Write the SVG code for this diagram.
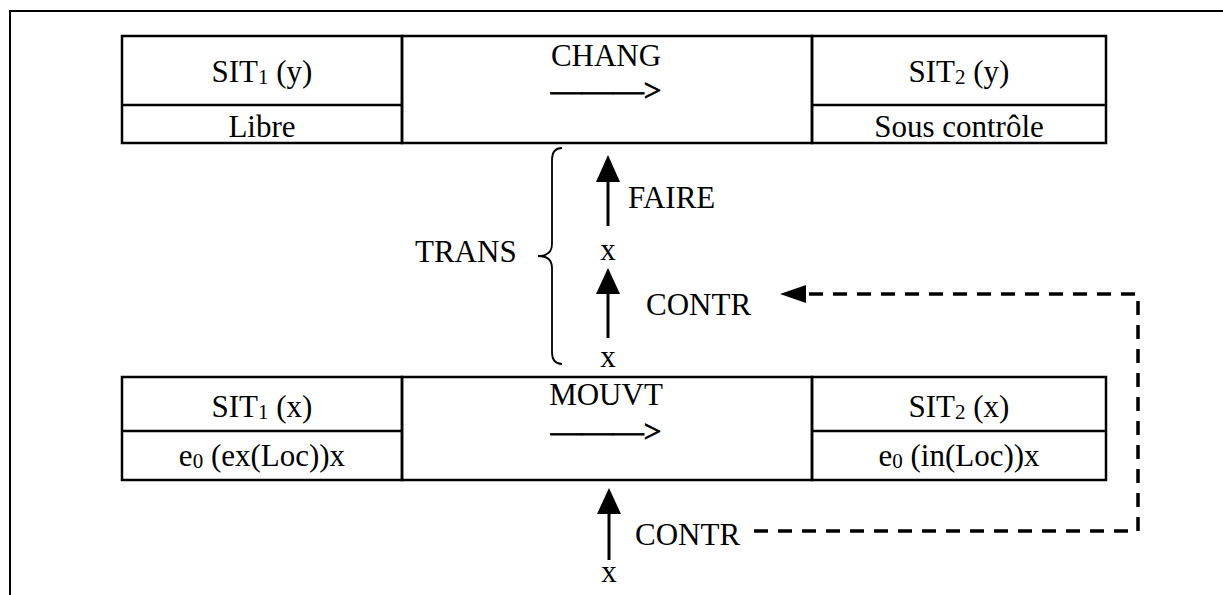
<svg xmlns="http://www.w3.org/2000/svg" width="1223" height="595" viewBox="0 0 1223 595" font-family="'Liberation Serif', 'DejaVu Serif', serif">
<style>
text { font-family: 'Liberation Serif', 'DejaVu Serif', serif; font-size: 31px; fill: #000; }
.c { text-anchor: middle; }
.sub { font-size: 21px; }
.arr { stroke: #000; stroke-width: 0.9; }
.cell { fill: none; stroke: #000; stroke-width: 2.5; }
.frame { fill: none; stroke: #000; stroke-width: 2; }
.shaft { stroke: #000; stroke-width: 3; fill: none; }
.head { fill: #000; }
.dash { fill: none; stroke: #000; stroke-width: 3.5; stroke-dasharray: 14 10; }
.brace { fill: none; stroke: #000; stroke-width: 1.8; }
</style>
<rect width="1223" height="595" fill="#fff"/>
<path class="frame" d="M10 595 V11 H1223"/>

<g id="sit1-y">
  <rect class="cell" x="122" y="36" width="280" height="107"/>
  <line class="cell" x1="122" y1="105" x2="402" y2="105"/>
  <text class="c" x="262" y="82">SIT<tspan class="sub" dy="2">1</tspan><tspan dy="-2"> (y)</tspan></text>
  <text class="c" x="262" y="137">Libre</text>
</g>
<g id="chang">
  <rect class="cell" x="402" y="36" width="410" height="107"/>
  <text class="c" x="606" y="66">CHANG</text>
  <text class="c arr" x="606" y="101">———&gt;</text>
</g>
<g id="sit2-y">
  <rect class="cell" x="812" y="36" width="294" height="107"/>
  <line class="cell" x1="812" y1="105" x2="1106" y2="105"/>
  <text class="c" x="959" y="82">SIT<tspan class="sub" dy="2">2</tspan><tspan dy="-2"> (y)</tspan></text>
  <text class="c" x="959" y="137">Sous contrôle</text>
</g>

<g id="sit1-x">
  <rect class="cell" x="122" y="377" width="280" height="103"/>
  <line class="cell" x1="122" y1="431" x2="402" y2="431"/>
  <text class="c" x="262" y="417">SIT<tspan class="sub" dy="2">1</tspan><tspan dy="-2"> (x)</tspan></text>
  <text class="c" x="262" y="466">e<tspan class="sub" dy="2">0</tspan><tspan dy="-2"> (ex(Loc))x</tspan></text>
</g>
<g id="mouvt">
  <rect class="cell" x="402" y="377" width="410" height="103"/>
  <text class="c" x="606" y="405">MOUVT</text>
  <text class="c arr" x="606" y="442">———&gt;</text>
</g>
<g id="sit2-x">
  <rect class="cell" x="812" y="377" width="294" height="103"/>
  <line class="cell" x1="812" y1="431" x2="1106" y2="431"/>
  <text class="c" x="959" y="417">SIT<tspan class="sub" dy="2">2</tspan><tspan dy="-2"> (x)</tspan></text>
  <text class="c" x="959" y="466">e<tspan class="sub" dy="2">0</tspan><tspan dy="-2"> (in(Loc))x</tspan></text>
</g>

<g id="trans">
  <path class="brace" d="M562 148 Q552 148 552 160 L552 244 Q552 256 538 256 Q552 256 552 268 L552 352 Q552 364 562 364"/>
  <text x="415" y="262">TRANS</text>
</g>

<g id="labels">
  <text x="628" y="208">FAIRE</text>
  <text class="c" x="608" y="260">x</text>
  <text x="646" y="315">CONTR</text>
  <text class="c" x="608" y="367">x</text>
  <text x="635" y="545">CONTR</text>
  <text class="c" x="609" y="582">x</text>
</g>

<g id="connectors">
  <line class="shaft" x1="608" y1="180" x2="608" y2="226"/>
  <polygon class="head" points="608,155 596,182 620,182"/>
  <line class="shaft" x1="608" y1="292" x2="608" y2="338"/>
  <polygon class="head" points="608,268 596,294 620,294"/>
  <line class="shaft" x1="609" y1="512" x2="609" y2="560"/>
  <polygon class="head" points="609,488 597,514 621,514"/>
  <path class="dash" d="M754 531 H1138 V294 H805"/>
  <polygon class="head" points="780,294 806,285 806,303"/>
</g>
</svg>
